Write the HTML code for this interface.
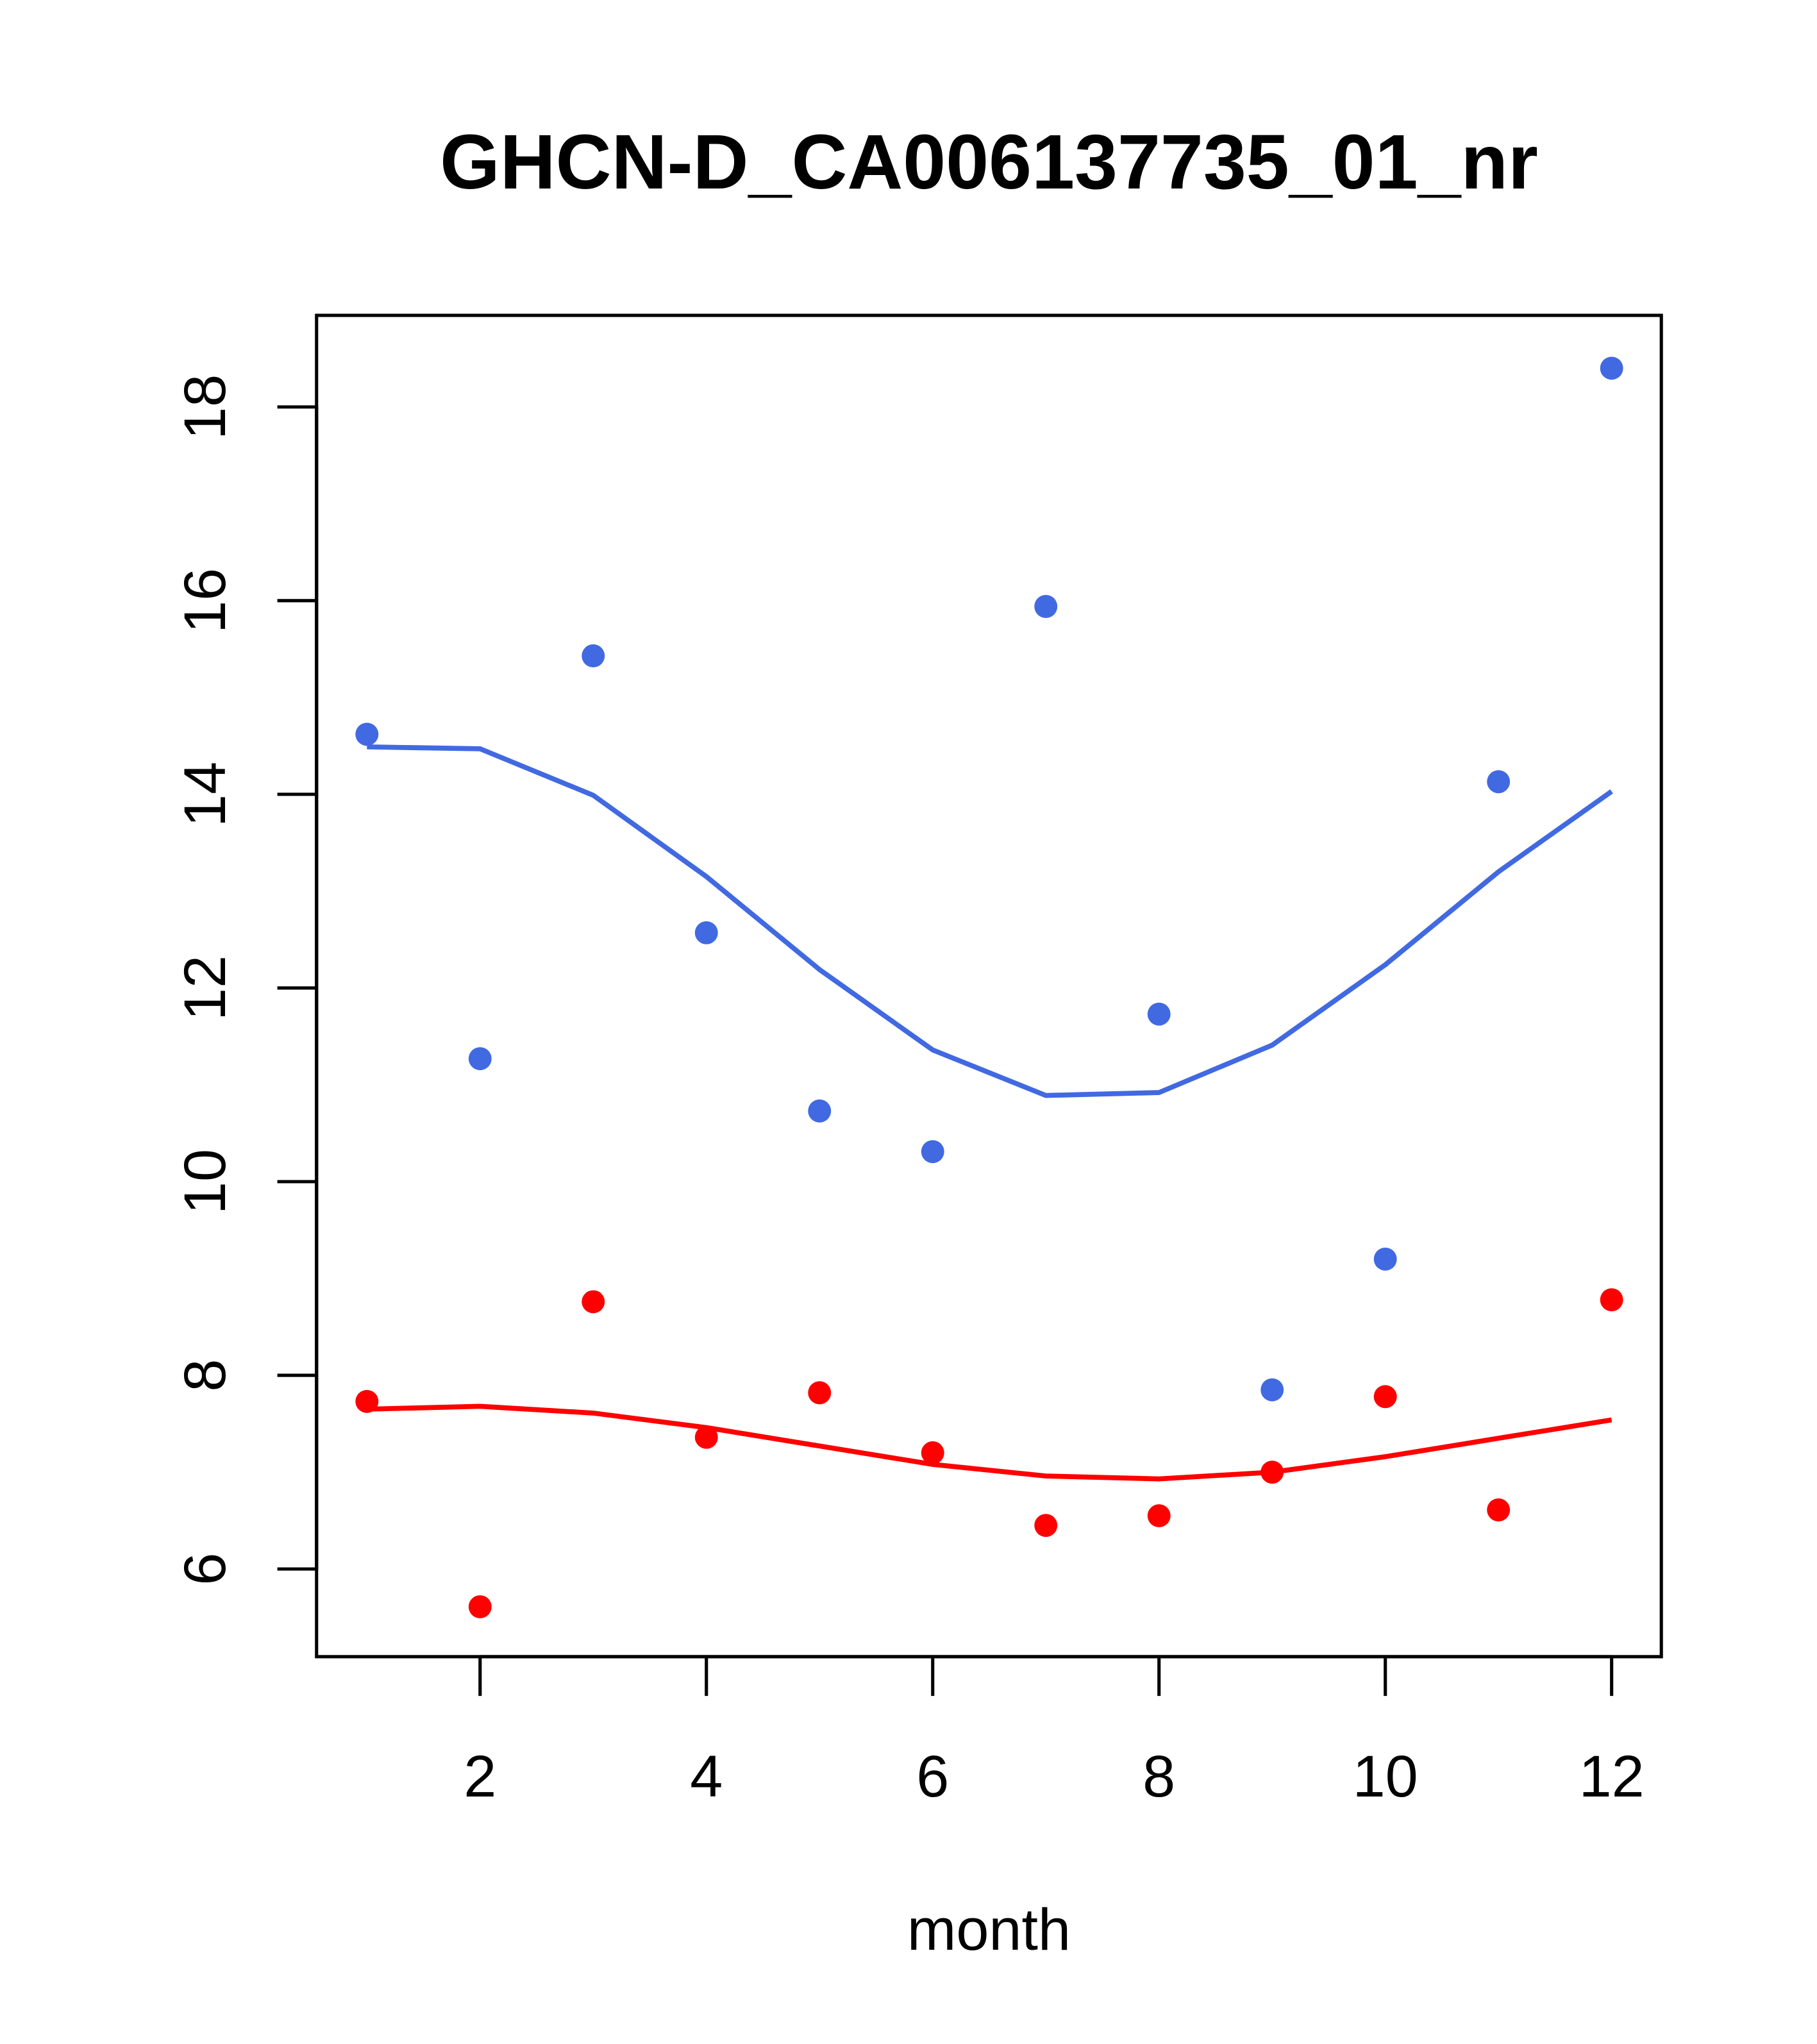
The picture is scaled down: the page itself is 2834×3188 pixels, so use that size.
<!DOCTYPE html>
<html><head><meta charset="utf-8"><style>
html,body{margin:0;padding:0;background:#fff;}
svg{display:block;}
text{font-family:"Liberation Sans",sans-serif;}
</style></head><body>
<svg id="chart" width="2834" height="3188" viewBox="0 0 1389 1562" preserveAspectRatio="none" xmlns="http://www.w3.org/2000/svg">
<rect width="1389" height="1562" fill="#fff"/>
<text x="756" y="144" text-anchor="middle" font-size="59" font-weight="bold">GHCN-D_CA006137735_01_nr</text>
<rect x="242" y="241" width="1028" height="1025" fill="none" stroke="#000" stroke-width="2.5"/>
<g id="axes"></g>
<g id="marks"></g>
<text x="756" y="1490" text-anchor="middle" font-size="45">month</text>
</svg>
<script>
const months = [1,2,3,4,5,6,7,8,9,10,11,12];
const bluePoints = [14.62,11.27,15.43,12.57,10.73,10.31,15.94,11.73,7.85,9.2,14.13,18.4];
const blueLine = [14.49,14.47,13.99,13.15,12.19,11.36,10.89,10.92,11.41,12.24,13.2,14.03];
const redPoints = [7.73,5.61,8.76,7.36,7.82,7.2,6.45,6.55,7.0,7.78,6.61,8.78];
const redLine = [7.65,7.68,7.61,7.46,7.27,7.08,6.96,6.93,7.0,7.16,7.35,7.54];
const xTicks = [2,4,6,8,10,12];
const yTicks = [6,8,10,12,14,16,18];

const NS = "http://www.w3.org/2000/svg";
function xs(v){ return 367 + (v-2)*86.5; }
function ys(v){ return 1199 - (v-6)*74; }
function mk(tag, attrs, parent){ const e=document.createElementNS(NS,tag); for(const k in attrs) e.setAttribute(k,attrs[k]); parent.appendChild(e); return e; }
const axes=document.getElementById('axes'), marks=document.getElementById('marks');

mk('line',{x1:xs(2),x2:xs(12),y1:1266,y2:1266,stroke:'#000','stroke-width':2.5},axes);
xTicks.forEach(t=>{
  const l=mk('line',{x1:xs(t),x2:xs(t),y1:1266,y2:1296,stroke:'#000','stroke-width':2.5},axes);
  
  
  const tx=mk('text',{x:xs(t),y:1373,'text-anchor':'middle','font-size':45},axes);
  tx.textContent=t;
  
  
});
mk('line',{x1:242,x2:242,y1:ys(6),y2:ys(18),stroke:'#000','stroke-width':2.5},axes);
yTicks.forEach(t=>{
  const l=mk('line',{x1:212,x2:242,y1:ys(t),y2:ys(t),stroke:'#000','stroke-width':2.5},axes);
  
  
  const tx=mk('text',{x:172,y:ys(t),'text-anchor':'middle','font-size':45,transform:`rotate(-90 172 ${ys(t)})`},axes);
  tx.textContent=t;
  
  
});

function line(vals,color,name){
  const p=mk('polyline',{points:months.map((m,i)=>xs(m)+','+ys(vals[i])).join(' '),fill:'none',stroke:color,'stroke-width':3.8},marks);
  
  
}
function pts(vals,color,name){
  months.forEach((m,i)=>{
    const c=mk('circle',{cx:xs(m),cy:ys(vals[i]),r:8.8,fill:color},marks);
    
    
  });
}
line(blueLine,'#4169E1','blue-smooth-line');
line(redLine,'#FF0000','red-smooth-line');
pts(bluePoints,'#4169E1','blue-point');
pts(redPoints,'#FF0000','red-point');
</script>
</body></html>
